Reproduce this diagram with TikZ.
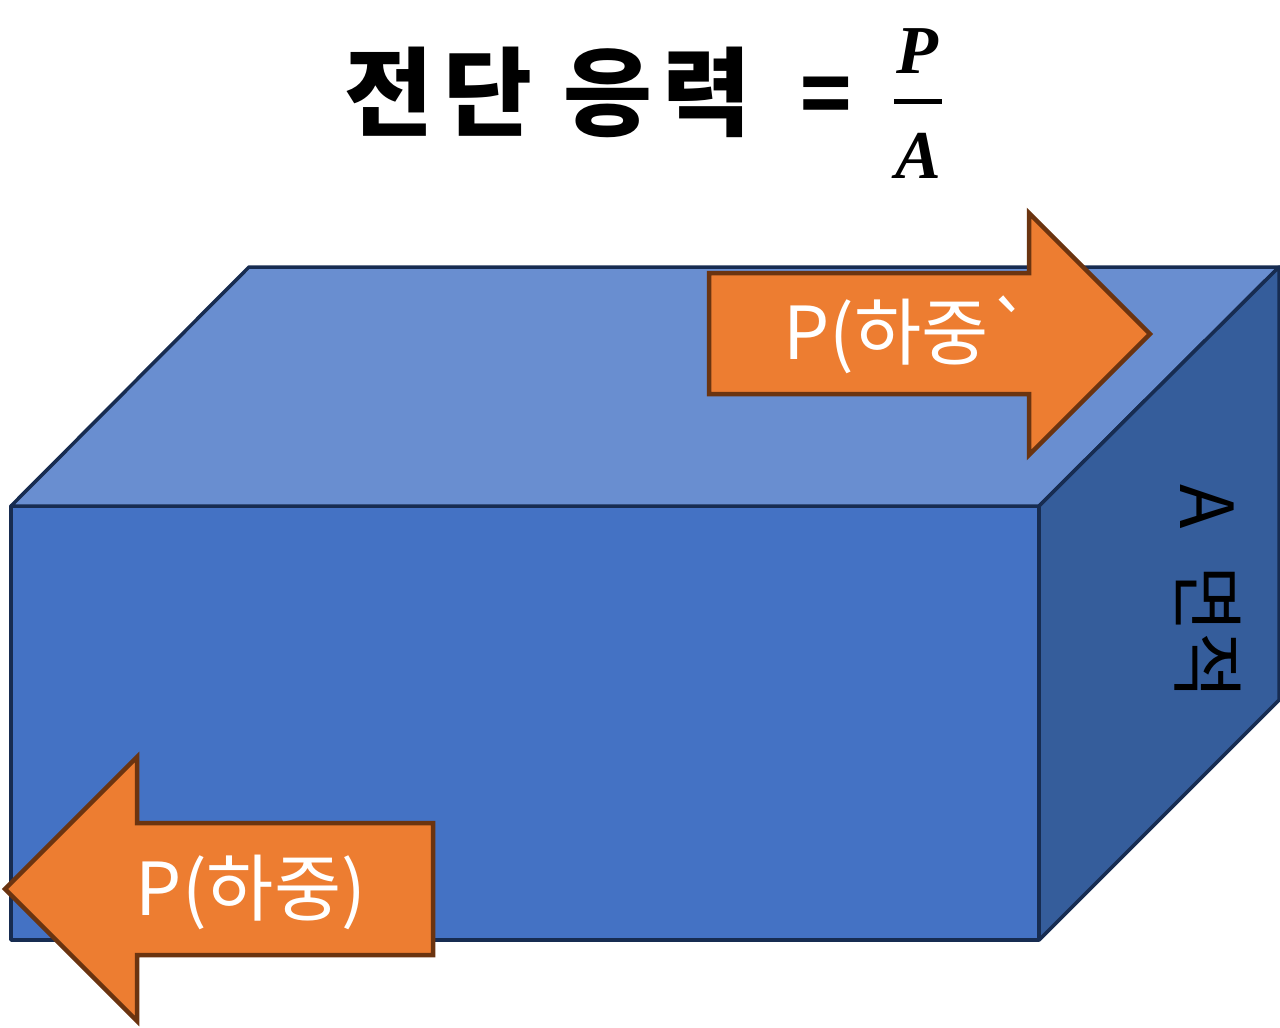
\documentclass[tikz,border=0pt]{standalone}
\usepackage{fontspec}
\newfontfamily\krfont{Noto Sans CJK KR}
\newfontfamily\krwide[LetterSpace=10]{Noto Sans CJK KR}
\newfontfamily\mathfont{Liberation Serif}
\definecolor{boxfront}{HTML}{4472C4}
\definecolor{boxtop}{HTML}{698ED0}
\definecolor{boxside}{HTML}{355D9B}
\definecolor{boxline}{HTML}{172C51}
\definecolor{loadfill}{HTML}{ED7D31}
\definecolor{loadline}{HTML}{6B3410}
\tikzset{
	boxface/.style={draw=boxline, line width=0.35mm, line join=round},
	loadarrow/.style={draw=loadline, fill=loadfill, line width=0.45mm, line join=miter},
	loadlabel/.style={text=white, font=\krfont\fontsize{20.8}{21}\selectfont, inner sep=0pt},
	fractionletter/.style={inner sep=0pt, font=\mathfont\bfseries\itshape\fontsize{19.5}{20}\selectfont},
}

\begin{document}
\begin{tikzpicture}
			%%%%% START %%%%%
			
			\useasboundingbox (0, 0) rectangle (12.8, 10.27);
			
			\draw[boxface, fill=boxfront] (0.11, 5.21) rectangle (10.39, 0.87);
			\draw[boxface, fill=boxtop] (0.11, 5.21) -- (2.49, 7.6) -- (12.79, 7.6) -- (10.39, 5.21) -- cycle;
			\draw[boxface, fill=boxside] (10.39, 5.21) -- (12.79, 7.6) -- (12.79, 3.27) -- (10.39, 0.87) -- cycle;
			
			\draw[loadarrow] (7.09, 7.54) -- (10.29, 7.54) -- (10.29, 8.14) -- (11.5, 6.93) -- (10.29, 5.72) -- (10.29, 6.33) -- (7.09, 6.33) -- cycle;
			\draw[loadarrow] (4.33, 2.04) -- (1.37, 2.04) -- (1.37, 2.7) -- (0.05, 1.38) -- (1.37, 0.06) -- (1.37, 0.72) -- (4.33, 0.72) -- cycle;
			
			\node[loadlabel] (topload) at (9.08, 6.92) {P(하중`};
			\node[loadlabel] (frontload) at (2.51, 1.35) {P(하중)};
			
			\node[rotate=-90, inner sep=0pt, font=\krfont\fontsize{20.8}{21}\selectfont] (area) at (12.08, 4.35) {A\hspace{0.2cm} 면적};
			
			\node[inner sep=0pt, font=\krwide\bfseries\fontsize{27.5}{28}\selectfont] (title) at (5.48, 9.35) {전단 응력};
			\node[inner sep=0pt, font=\krfont\bfseries\fontsize{24}{25}\selectfont] (equals) at (8.26, 9.26) {=};
			\node[fractionletter] (loadP) at (9.17, 9.76) {P};
			\node[fractionletter] (areaA) at (9.18, 8.71) {A};
			\draw[line width=0.5mm] (8.94, 9.25) -- (9.42, 9.25);
			
			%%%%% END %%%%%
		\end{tikzpicture}
\end{document}
